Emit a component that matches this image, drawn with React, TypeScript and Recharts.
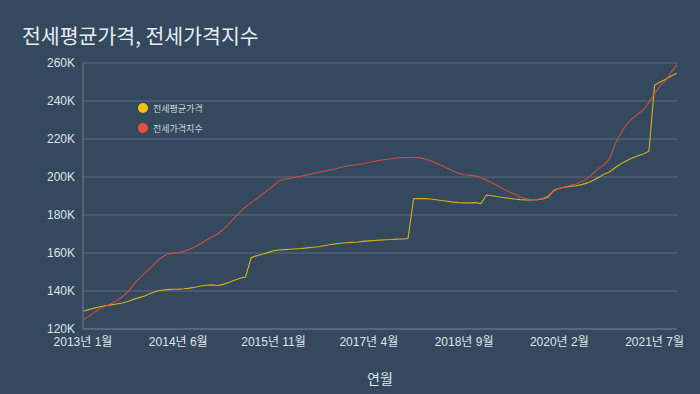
import { LineChart, Line, XAxis, YAxis, CartesianGrid, Legend } from "recharts";

// monthly categories, 2013-01 .. 2021-11
const START_YEAR = 2013;
const MONTH_COUNT = 107;
const months = Array.from(
  { length: MONTH_COUNT },
  (_, i) => `${START_YEAR + Math.floor(i / 12)}년 ${(i % 12) + 1}월`
);

// 전세평균가격 (K)
const avgPrice = [
  129.3, 130.2, 131.0, 131.7, 132.2, 132.7, 133.2, 133.7, 134.5, 135.6,
  136.5, 137.4, 138.7, 139.7, 140.4, 140.7, 140.9, 141.0, 141.2, 141.5,
  142.0, 142.6, 143.0, 143.2, 142.9, 143.5, 144.5, 145.7, 146.7, 147.3,
  157.5, 158.6, 159.3, 160.2, 161.2, 161.6, 161.8, 162.0, 162.2, 162.4,
  162.7, 163.0, 163.3, 163.8, 164.3, 164.8, 165.1, 165.4, 165.6, 165.8,
  166.1, 166.4, 166.6, 166.8, 167.0, 167.1, 167.3, 167.4, 167.6, 188.6,
  188.7, 188.6, 188.4, 188.0, 187.6, 187.2, 186.8, 186.5, 186.4, 186.4,
  186.5, 186.0, 190.5, 190.1, 189.6, 189.2, 188.8, 188.4, 188.1, 187.9,
  187.9, 188.0, 188.5, 189.4, 193.0, 194.1, 194.6, 195.0, 195.4, 196.0,
  196.9, 198.2, 199.7, 201.5, 202.8, 205.0, 207.0, 208.6, 210.0, 211.2,
  212.1, 213.6, 248.3, 250.0, 251.5, 253.3, 254.6,
];

// 전세가격지수 (K)
const priceIndex = [
  124.9, 126.5, 128.6, 130.8, 132.0, 133.3, 135.0, 137.0, 139.6, 143.2,
  146.5, 149.3, 152.0, 154.9, 157.6, 159.3, 159.8, 160.1, 160.9, 162.0,
  163.3, 164.9, 166.8, 168.4, 170.0, 172.3, 175.2, 178.3, 181.4, 184.3,
  186.4, 188.5, 190.9, 193.2, 195.6, 198.0, 198.8, 199.3, 199.9, 200.5,
  201.1, 201.8, 202.4, 203.0, 203.6, 204.2, 205.0, 205.8, 206.2, 206.6,
  207.0, 207.6, 208.3, 208.8, 209.2, 209.6, 210.0, 210.2, 210.3, 210.3,
  210.2, 209.5, 208.5, 207.3, 206.0, 204.6, 203.2, 202.0, 201.2, 201.0,
  200.6, 199.6, 198.4, 197.0, 195.4, 193.7, 192.3, 190.9, 189.6, 188.6,
  188.0, 188.1, 188.7, 190.2, 192.6, 193.9, 194.8, 195.6, 196.3, 197.6,
  199.2, 202.0, 204.4, 206.6, 209.6, 217.5, 223.2, 227.7, 230.8, 233.0,
  235.4, 239.3, 244.0, 247.8, 251.0, 255.3, 259.0,
];

const yTicks = [120, 140, 160, 180, 200, 220, 240, 260];

const data = months.map((m, i) => ({
  month: m,
  avg: avgPrice[i],
  index: priceIndex[i],
}));

const BG = "#34495e";
const GRID = "#5b6c7e";
const TEXT = "#dfe4e8";
const FONT = "'Liberation Sans', 'Noto Sans CJK KR', sans-serif";

const series = [
  { key: "avg", name: "전세평균가격", color: "#f1c40f" },
  { key: "index", name: "전세가격지수", color: "#e74c3c" },
];

function LegendBox() {
  return (
    <div style={{ fontFamily: FONT, fontSize: 9, color: "#cfd6dd" }}>
      {series.map((s) => (
        <div
          key={s.key}
          style={{ display: "flex", alignItems: "center", height: 20 }}
        >
          <span
            style={{
              width: 10,
              height: 10,
              borderRadius: 5,
              background: s.color,
              marginRight: 5,
              display: "inline-block",
            }}
          />
          {s.name}
        </div>
      ))}
    </div>
  );
}

export default function App() {
  return (
    <div
      style={{
        position: "relative",
        width: 700,
        height: 394,
        background: BG,
        fontFamily: FONT,
      }}
    >
      <style>{"body{margin:0}"}</style>
      <div
        style={{
          position: "absolute",
          left: 22,
          top: 25,
          fontSize: 20.5,
          lineHeight: "21px",
          color: "#e8ecee",
          fontFamily: "'Noto Sans CJK KR', sans-serif",
        }}
      >
        전세평균가격, 전세가격지수
      </div>
      <LineChart
        width={700}
        height={394}
        data={data}
        margin={{ top: 63, right: 23, bottom: 10, left: 0 }}
      >
        <CartesianGrid vertical={false} stroke={GRID} strokeWidth={1.2} />
        <XAxis
          dataKey="month"
          interval={16}
          height={55}
          tickLine={false}
          axisLine={{ stroke: GRID, strokeWidth: 1.5 }}
          tick={{ fill: TEXT, fontSize: 12, fontFamily: FONT }}
          label={{
            value: "연월",
            position: "insideBottom",
            offset: 0,
            fill: TEXT,
            fontSize: 14,
            fontFamily: FONT,
          }}
        />
        <YAxis
          width={83}
          domain={[120, 260]}
          ticks={yTicks}
          tickFormatter={(v) => `${v}K`}
          tickLine={false}
          axisLine={{ stroke: GRID, strokeWidth: 1.5 }}
          tick={{ fill: TEXT, fontSize: 12, fontFamily: FONT }}
        />
        <Legend
          layout="vertical"
          align="center"
          verticalAlign="middle"
          wrapperStyle={{ left: 138, top: 98, width: "auto" }}
          content={() => <LegendBox />}
        />
        {series.map((s) => (
          <Line
            key={s.key}
            type="linear"
            dataKey={s.key}
            name={s.name}
            stroke={s.color}
            strokeWidth={1.1}
            strokeOpacity={0.85}
            dot={false}
            isAnimationActive={false}
          />
        ))}
      </LineChart>
    </div>
  );
}
